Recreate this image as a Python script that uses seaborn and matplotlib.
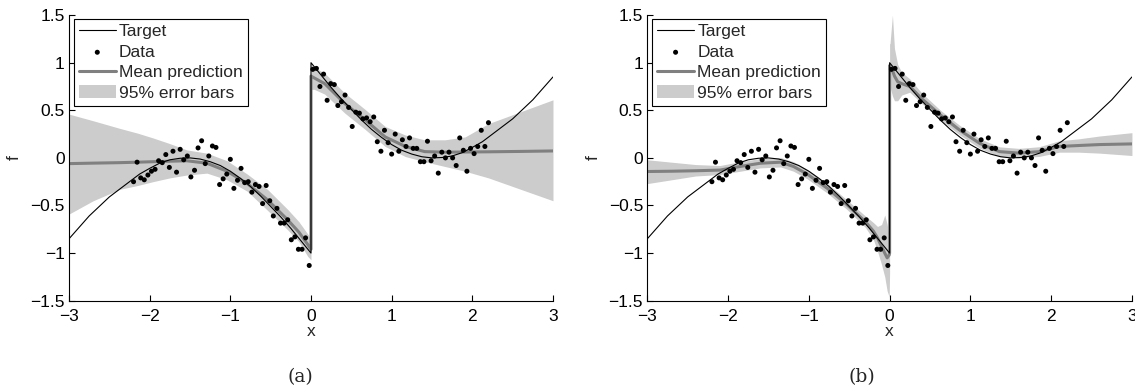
import numpy as np
import pandas as pd
import matplotlib
matplotlib.use("Agg")
import matplotlib.pyplot as plt
import seaborn as sns

# noisy observations (same set in both panels)
data_x = [-2.200, -2.156, -2.111, -2.067, -2.022, -1.978, -1.933, -1.889, -1.844, -1.800,
          -1.756, -1.711, -1.667, -1.622, -1.578, -1.533, -1.489, -1.444, -1.400, -1.356,
          -1.311, -1.267, -1.222, -1.178, -1.133, -1.089, -1.044, -1.000, -0.956, -0.911,
          -0.867, -0.822, -0.778, -0.733, -0.689, -0.644, -0.600, -0.556, -0.511, -0.467,
          -0.422, -0.378, -0.333, -0.289, -0.244, -0.200, -0.156, -0.111, -0.067, -0.022,
          0.022, 0.067, 0.111, 0.156, 0.200, 0.244, 0.289, 0.333, 0.378, 0.422,
          0.467, 0.511, 0.556, 0.600, 0.644, 0.689, 0.733, 0.778, 0.822, 0.867,
          0.911, 0.956, 1.000, 1.044, 1.089, 1.133, 1.178, 1.222, 1.267, 1.311,
          1.356, 1.400, 1.444, 1.489, 1.533, 1.578, 1.622, 1.667, 1.711, 1.756,
          1.800, 1.844, 1.889, 1.933, 1.978, 2.022, 2.067, 2.111, 2.156, 2.200]
data_f = [-0.25, -0.045, -0.21, -0.23, -0.18, -0.14, -0.12, -0.03, -0.05, 0.035,
          -0.10, 0.07, -0.15, 0.09, -0.02, 0.02, -0.20, -0.13, 0.105, 0.18,
          -0.06, 0.02, 0.125, 0.11, -0.28, -0.22, -0.17, -0.015, -0.32, -0.235,
          -0.11, -0.26, -0.25, -0.36, -0.28, -0.30, -0.48, -0.29, -0.45, -0.61,
          -0.53, -0.685, -0.685, -0.65, -0.86, -0.83, -0.96, -0.96, -0.84, -1.13,
          0.93, 0.94, 0.75, 0.88, 0.605, 0.78, 0.77, 0.55, 0.59, 0.66,
          0.53, 0.33, 0.48, 0.47, 0.41, 0.42, 0.38, 0.43, 0.17, 0.07,
          0.29, 0.16, 0.04, 0.25, 0.07, 0.19, 0.12, 0.21, 0.10, 0.10,
          -0.04, -0.04, 0.175, -0.03, 0.02, -0.16, 0.06, 0.00, 0.06, 0.00,
          -0.08, 0.21, 0.08, -0.14, 0.10, 0.045, 0.12, 0.29, 0.12, 0.37]

# target function (step at x = 0)
target_x = [-3.0, -2.875, -2.75, -2.625, -2.5, -2.375, -2.25, -2.125, -2.0, -1.875,
            -1.75, -1.625, -1.5, -1.375, -1.25, -1.125, -1.0, -0.875, -0.75, -0.625,
            -0.5, -0.375, -0.25, -0.125, 0.0,
            0.0, 0.125, 0.25, 0.375, 0.5, 0.625, 0.75, 0.875, 1.0, 1.125,
            1.25, 1.375, 1.5, 1.625, 1.75, 1.875, 2.0, 2.125, 2.25, 2.375,
            2.5, 2.625, 2.75, 2.875, 3.0]
target_f = [-0.85, -0.73, -0.61, -0.51, -0.41, -0.33, -0.25, -0.17, -0.11, -0.055,
            -0.02, -0.004, 0.0, -0.012, -0.04, -0.08, -0.14, -0.215, -0.30, -0.40,
            -0.51, -0.62, -0.74, -0.87, -1.0,
            1.0, 0.87, 0.74, 0.62, 0.51, 0.40, 0.30, 0.215, 0.14, 0.08,
            0.04, 0.012, 0.0, 0.004, 0.02, 0.055, 0.11, 0.17, 0.25, 0.33,
            0.41, 0.51, 0.61, 0.73, 0.85]

# (a) prediction: mean and 95% band
a_x = [-3.0, -2.7, -2.37, -2.15, -1.96, -1.75, -1.54, -1.29, -1.04, -0.79, -0.54, -0.29,
       -0.15, -0.04, 0.0, 0.0, 0.04, 0.17, 0.42, 0.67, 0.92, 1.17, 1.41, 1.66, 1.91,
       2.2, 2.6, 3.0]
a_mean = [-0.06, -0.055, -0.05, -0.045, -0.04, -0.035, -0.03, -0.056, -0.14, -0.27, -0.44, -0.65,
          -0.78, -0.91, -0.96, 0.86, 0.84, 0.78, 0.57, 0.40, 0.22, 0.12, 0.066, 0.06, 0.062,
          0.064, 0.068, 0.073]
a_lo = [-0.59, -0.45, -0.33, -0.29, -0.25, -0.21, -0.18, -0.16, -0.23, -0.35, -0.55, -0.755,
        -0.88, -1.035, -1.07, 0.72, 0.72, 0.67, 0.47, 0.30, 0.12, 0.014, -0.04, -0.09, -0.14,
        -0.21, -0.33, -0.45]
a_up = [0.46, 0.39, 0.31, 0.26, 0.21, 0.15, 0.084, 0.05, -0.03, -0.17, -0.33, -0.54,
        -0.67, -0.80, -0.85, 0.98, 0.95, 0.89, 0.68, 0.51, 0.33, 0.24, 0.19, 0.19, 0.22,
        0.36, 0.485, 0.61]

# (b) prediction: mean and 95% band
b_x = [-3.0, -2.7, -2.4, -2.1, -1.85, -1.6, -1.35, -1.19, -1.02, -0.77, -0.53, -0.3,
       -0.2, -0.15, -0.1, -0.06, -0.03, -0.005, 0.0, 0.0, 0.005, 0.035, 0.06, 0.1,
       0.15, 0.25, 0.4, 0.63, 0.87, 1.12, 1.36, 1.6, 1.85, 2.1, 2.34, 2.6, 3.0]
b_mean = [-0.143, -0.14, -0.135, -0.128, -0.09, -0.056, -0.045, -0.09, -0.17, -0.32, -0.49, -0.67,
          -0.77, -0.84, -0.93, -1.0, -1.05, -1.02, -1.0, 0.97, 0.95, 0.92, 0.86, 0.80,
          0.78, 0.75, 0.62, 0.45, 0.29, 0.15, 0.066, 0.05, 0.066, 0.12, 0.13, 0.14, 0.147]
b_lo = [-0.27, -0.23, -0.19, -0.175, -0.14, -0.105, -0.095, -0.14, -0.22, -0.37, -0.54, -0.73,
        -0.86, -0.98, -1.12, -1.25, -1.40, -1.46, -1.2, 0.75, 0.75, 0.65, 0.60, 0.60,
        0.66, 0.69, 0.57, 0.40, 0.24, 0.10, 0.016, 0.0, 0.015, 0.06, 0.06, 0.05, 0.025]
b_up = [-0.02, -0.045, -0.07, -0.08, -0.04, -0.006, 0.005, -0.04, -0.12, -0.27, -0.44, -0.61,
        -0.68, -0.72, -0.70, -0.60, -0.70, -0.85, -0.85, 1.2, 1.2, 1.5, 1.15, 0.98,
        0.90, 0.83, 0.68, 0.50, 0.34, 0.20, 0.116, 0.10, 0.117, 0.18, 0.20, 0.23, 0.265]

x_ticks = [-3, -2, -1, 0, 1, 2, 3]
y_ticks = [-1.5, -1, -0.5, 0, 0.5, 1, 1.5]
y_ticklabels = ['\u22121.5', '\u22121', '\u22120.5', '0', '0.5', '1', '1.5']
x_ticklabels = ['\u22123', '\u22122', '\u22121', '0', '1', '2', '3']
legend_order = ['Target', 'Data', 'Mean prediction', '95% error bars']

sns.set_style("ticks")
plt.rcParams['font.family'] = ['Liberation Sans', 'DejaVu Sans']

data_df = pd.DataFrame({'x': data_x, 'f': data_f})
target_df = pd.DataFrame({'x': target_x, 'f': target_f})


def draw_panel(ax, px, pmean, plo, pup):
    ax.fill_between(px, plo, pup, color='0.8', lw=0, label='95% error bars', zorder=1)
    sns.lineplot(x=px, y=pmean, ax=ax, color='0.5', lw=2.2, estimator=None, sort=False,
                 label='Mean prediction', zorder=2)
    sns.lineplot(data=target_df, x='x', y='f', ax=ax, color='k', lw=0.8, estimator=None,
                 sort=False, label='Target', zorder=3)
    sns.scatterplot(data=data_df, x='x', y='f', ax=ax, color='k', s=13, edgecolor='none',
                    label='Data', zorder=4)
    ax.set_xlim(-3, 3)
    ax.set_ylim(-1.5, 1.5)
    ax.set_xticks(x_ticks)
    ax.set_xticklabels(x_ticklabels)
    ax.set_yticks(y_ticks)
    ax.set_yticklabels(y_ticklabels)
    ax.tick_params(direction='in', length=4, width=0.8, labelsize=12.5, colors='k')
    ax.tick_params(axis='x', pad=6)
    ax.tick_params(axis='y', pad=3)
    for s in ['top', 'right']:
        ax.spines[s].set_visible(False)
    for s in ['left', 'bottom']:
        ax.spines[s].set_color('k')
        ax.spines[s].set_linewidth(0.8)
    ax.set_xlabel('x', fontsize=12.5, labelpad=0)
    ax.set_ylabel('f', fontsize=12.5, labelpad=6)
    handles, labels = ax.get_legend_handles_labels()
    hmap = dict(zip(labels, handles))
    leg = ax.legend([hmap[k] for k in legend_order], legend_order, loc='upper left',
                    bbox_to_anchor=(0.01, 0.986), borderaxespad=0, fontsize=12.5,
                    frameon=True, fancybox=False, framealpha=1, edgecolor='k',
                    handlelength=2.1, handletextpad=0.2, labelspacing=0.3,
                    borderpad=0.3)
    leg.get_frame().set_linewidth(0.8)


fig = plt.figure(figsize=(11.35, 3.87), dpi=100)
ax_a = fig.add_axes([0.0608, 0.223, 0.4264, 0.738])
ax_b = fig.add_axes([0.5703, 0.223, 0.4270, 0.738])

draw_panel(ax_a, a_x, a_mean, a_lo, a_up)
draw_panel(ax_b, b_x, b_mean, b_lo, b_up)

fig.text(300 / 1135, 1 - 377 / 387, '(a)', ha='center', va='center', fontsize=13.5,
         family='DejaVu Serif')
fig.text(862 / 1135, 1 - 377 / 387, '(b)', ha='center', va='center', fontsize=13.5,
         family='DejaVu Serif')

fig.savefig('out.png', dpi=100)
